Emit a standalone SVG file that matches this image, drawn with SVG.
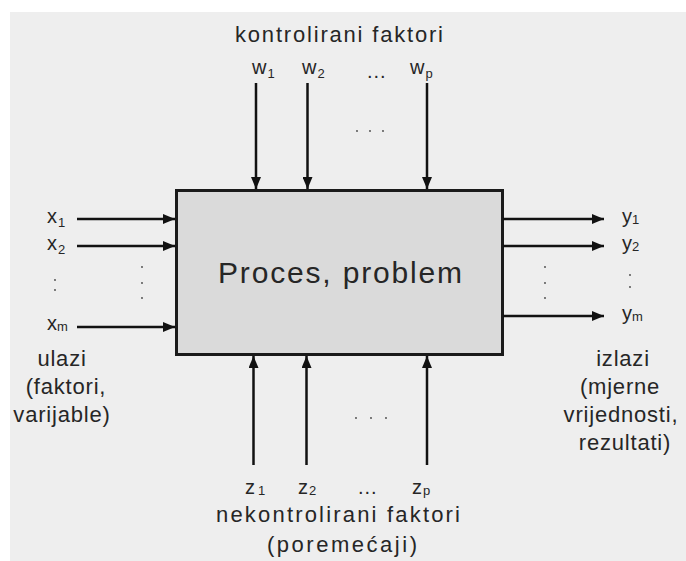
<svg xmlns="http://www.w3.org/2000/svg" width="686" height="561" viewBox="0 0 686 561">
  <defs>
    <marker id="arrow" viewBox="0 0 12 10" refX="12" refY="5" markerWidth="12" markerHeight="10" markerUnits="userSpaceOnUse" orient="auto">
      <path d="M0,0 L12,5 L0,10 Z" fill="#111"/>
    </marker>
  </defs>
  <style>
    text { font-family: "Liberation Sans", Arial, sans-serif; fill: #262626; }
    .t { font-size: 22px; text-anchor: middle; letter-spacing: 0.8px; }
    .lbl { font-size: 20px; }
    .sub { font-size: 13px; }
    .dot { fill: #444; }
    .conn line { stroke: #111; stroke-width: 2.5; marker-end: url(#arrow); }
  </style>

  <!-- backdrop -->
  <rect x="10" y="12" width="676" height="549" fill="#eeeeee"/>

  <!-- central process block -->
  <g id="process">
    <rect x="176.5" y="190.5" width="326" height="164" fill="#dadada" stroke="#1a1a1a" stroke-width="3"/>
    <text x="340" y="283" font-size="30" text-anchor="middle" textLength="244" lengthAdjust="spacing">Proces, problem</text>
  </g>

  <!-- connectors -->
  <g id="connectors" class="conn">
    <!-- controlled factors (top) -->
    <line x1="256" y1="83" x2="256" y2="189"/>
    <line x1="307.5" y1="83" x2="307.5" y2="189"/>
    <line x1="427" y1="83" x2="427" y2="189"/>
    <!-- inputs (left) -->
    <line x1="77" y1="219" x2="175" y2="219"/>
    <line x1="77" y1="246" x2="175" y2="246"/>
    <line x1="77" y1="327" x2="175" y2="327"/>
    <!-- outputs (right) -->
    <line x1="503" y1="219" x2="604" y2="219"/>
    <line x1="503" y1="246" x2="604" y2="246"/>
    <line x1="503" y1="316" x2="604" y2="316"/>
    <!-- uncontrolled factors (bottom) -->
    <line x1="253.5" y1="465" x2="253.5" y2="356"/>
    <line x1="306.5" y1="465" x2="306.5" y2="356"/>
    <line x1="427" y1="465" x2="427" y2="356"/>
  </g>

  <!-- controlled factors -->
  <g id="controlled">
    <text x="339" y="42" font-size="22" text-anchor="middle" textLength="208" lengthAdjust="spacing">kontrolirani faktori</text>
    <text x="252" y="74" class="lbl">w<tspan class="sub" dx="1" dy="4">1</tspan></text>
    <text x="302" y="74" class="lbl">w<tspan class="sub" dx="1" dy="4">2</tspan></text>
    <text x="367" y="78" class="lbl" font-size="14" letter-spacing="1">...</text>
    <text x="410" y="74" class="lbl">w<tspan class="sub" dx="1" dy="4">p</tspan></text>
    <circle class="dot" cx="357" cy="131" r="0.9"/>
    <circle class="dot" cx="370" cy="131" r="0.9"/>
    <circle class="dot" cx="383" cy="131" r="0.9"/>
  </g>

  <!-- inputs -->
  <g id="inputs">
    <text x="47" y="223" class="lbl">x<tspan class="sub" dx="1" dy="4">1</tspan></text>
    <text x="47" y="250" class="lbl">x<tspan class="sub" dx="1" dy="4">2</tspan></text>
    <text x="47" y="330" class="lbl">x<tspan class="sub" dx="0" dy="1">m</tspan></text>
    <circle class="dot" cx="55" cy="280" r="0.9"/>
    <circle class="dot" cx="55" cy="290" r="0.9"/>
    <circle class="dot" cx="142" cy="267" r="0.9"/>
    <circle class="dot" cx="142" cy="283" r="0.9"/>
    <circle class="dot" cx="142" cy="298" r="0.9"/>
    <text class="t" x="62" y="366">ulazi</text>
    <text class="t" x="66" y="394">(faktori,</text>
    <text class="t" x="62" y="422">varijable)</text>
  </g>

  <!-- outputs -->
  <g id="outputs">
    <text x="622" y="223" class="lbl">y<tspan class="sub" dx="0" dy="1">1</tspan></text>
    <text x="622" y="250" class="lbl">y<tspan class="sub" dx="0" dy="1">2</tspan></text>
    <text x="622" y="320" class="lbl">y<tspan class="sub" dx="0" dy="1">m</tspan></text>
    <circle class="dot" cx="630" cy="275" r="0.9"/>
    <circle class="dot" cx="630" cy="287" r="0.9"/>
    <circle class="dot" cx="545" cy="267" r="0.9"/>
    <circle class="dot" cx="545" cy="283" r="0.9"/>
    <circle class="dot" cx="545" cy="298" r="0.9"/>
    <text class="t" x="623" y="366">izlazi</text>
    <text class="t" x="620" y="394">(mjerne</text>
    <text class="t" x="621" y="422">vrijednosti,</text>
    <text class="t" x="625" y="450">rezultati)</text>
  </g>

  <!-- uncontrolled factors -->
  <g id="uncontrolled">
    <circle class="dot" cx="356" cy="418" r="0.9"/>
    <circle class="dot" cx="371" cy="418" r="0.9"/>
    <circle class="dot" cx="386" cy="418" r="0.9"/>
    <text x="245" y="494" class="lbl">z<tspan class="sub" dx="3" dy="1">1</tspan></text>
    <text x="298" y="494" class="lbl">z<tspan class="sub" dx="1" dy="1">2</tspan></text>
    <text x="358" y="494" class="lbl" font-size="14" letter-spacing="1">...</text>
    <text x="412" y="494" class="lbl">z<tspan class="sub" dx="1" dy="1">p</tspan></text>
    <text x="338" y="522" font-size="22" text-anchor="middle" textLength="244" lengthAdjust="spacing">nekontrolirani faktori</text>
    <text x="342" y="552" font-size="22" text-anchor="middle" textLength="150" lengthAdjust="spacing">(poremećaji)</text>
  </g>
</svg>
